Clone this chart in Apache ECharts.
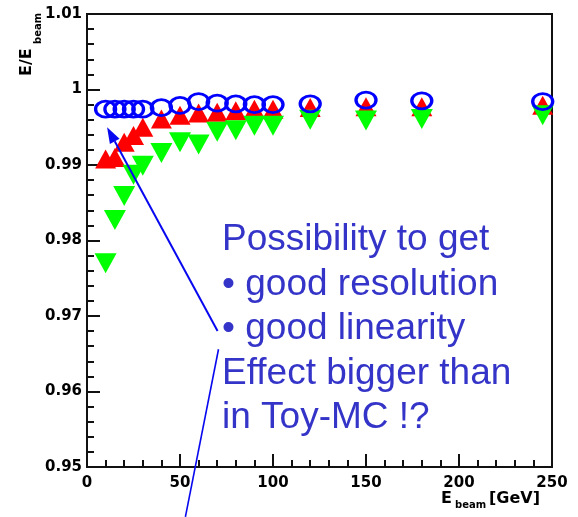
<!DOCTYPE html>
<html><head><meta charset="utf-8">
<script src="https://cdn.jsdelivr.net/npm/echarts@6/dist/echarts.min.js"></script>
<style>html,body{margin:0;padding:0;background:#fff}#c{width:578px;height:517px}</style>
</head><body><div id="c"></div>
<script>
// ---- data ----
const energies  = [10, 15, 20, 25, 30, 40, 50, 60, 70, 80, 90, 100, 120, 150, 180, 245];
const blueCircle = [0.9974, 0.9974, 0.9974, 0.9974, 0.9974, 0.9976, 0.9979, 0.9984, 0.9982, 0.9981, 0.9980, 0.9980, 0.9981, 0.9986, 0.9985, 0.9984];
const redUp      = [0.9908, 0.9910, 0.9930, 0.9939, 0.9950, 0.9961, 0.9966, 0.9969, 0.9970, 0.9972, 0.9974, 0.9974, 0.9976, 0.9977, 0.9977, 0.9979];
const greenDown  = [0.9770, 0.9827, 0.9859, 0.9887, 0.9899, 0.9916, 0.9930, 0.9927, 0.9944, 0.9946, 0.9952, 0.9952, 0.9960, 0.9959, 0.9961, 0.9966];
const xTickValues = [0, 50, 100, 150, 200, 250];
const yTickValues = [0.95, 0.96, 0.97, 0.98, 0.99, 1, 1.01];
const annotationLines = ['Possibility to get', '\u2022 good resolution', '\u2022 good linearity', 'Effect bigger than', 'in Toy-MC !?'];
// annotation pointer anchors in data units
const arrowFrom = [70.2, 0.9680];
const arrowTo   = [10.8, 0.9950];
const line2From = [70.7, 0.9656];
const line2To   = [52.9, 0.9434];

const pairs = vals => energies.map((e, i) => [e, vals[i]]);
const labelFont = 'DejaVu Sans';

const chart = echarts.init(document.getElementById('c'), null, {renderer: 'canvas'});
const option = {
  animation: false,
  backgroundColor: '#ffffff',
  grid: {left: 87, right: 26, top: 14, bottom: 50, show: true, borderColor: '#111', borderWidth: 2, backgroundColor: 'transparent'},
  xAxis: {
    type: 'value', min: xTickValues[0], max: xTickValues[xTickValues.length - 1], interval: 50,
    axisLine: {show: true, lineStyle: {color: '#111', width: 2}},
    axisTick: {show: true, inside: true, length: 13, lineStyle: {color: '#111', width: 2}},
    minorTick: {show: true, splitNumber: 5, length: 7, lineStyle: {color: '#111', width: 2}},
    splitLine: {show: false},
    axisLabel: {margin: 9, color: '#000', fontFamily: labelFont, fontWeight: 'bold', fontSize: 15,
      formatter: v => String(Math.round(v))}
  },
  yAxis: {
    type: 'value', min: yTickValues[0], max: yTickValues[yTickValues.length - 1], interval: 0.01,
    axisLine: {show: true, lineStyle: {color: '#111', width: 2}},
    axisTick: {show: true, inside: true, length: 13, lineStyle: {color: '#111', width: 2}},
    minorTick: {show: true, splitNumber: 5, length: 7, lineStyle: {color: '#111', width: 2}},
    splitLine: {show: false},
    axisLabel: {margin: 5, color: '#000', fontFamily: labelFont, fontWeight: 'bold', fontSize: 15,
      formatter: v => String(parseFloat(v.toFixed(2)))}
  },
  series: [
    {type: 'scatter', name: 'red', data: pairs(redUp), symbol: 'triangle', symbolSize: [21, 19],
     itemStyle: {color: '#ff0000', opacity: 1}, z: 2},
    {type: 'scatter', name: 'green', data: pairs(greenDown), symbol: 'triangle', symbolRotate: 180, symbolSize: [22, 20],
     itemStyle: {color: '#00ff00', opacity: 1}, z: 3},
    {type: 'scatter', name: 'blue', data: pairs(blueCircle), symbol: 'circle', symbolSize: [20, 16],
     itemStyle: {color: 'rgba(0,0,0,0)', borderColor: '#0000ff', borderWidth: 3, opacity: 1}, z: 4}
  ]
};
chart.setOption(option);

const P = d => chart.convertToPixel({gridIndex: 0}, d);
const a0 = P(arrowFrom), a1 = P(arrowTo), b0 = P(line2From), b1 = P(line2To);
const dx = a1[0] - a0[0], dy = a1[1] - a0[1], L = Math.hypot(dx, dy);
const ux = dx / L, uy = dy / L, hl = 16, hw = 5.5;
const base = [a1[0] - ux * hl, a1[1] - uy * hl];
const head = [a1, [base[0] - uy * hw, base[1] + ux * hw], [base[0] + uy * hw, base[1] - ux * hw]];
const arrowColor = '#0808f0';
const textColor = '#3434c8';

const graphics = [
  {type: 'line', shape: {x1: a0[0], y1: a0[1], x2: base[0], y2: base[1]}, style: {stroke: arrowColor, lineWidth: 2}, z: 10},
  {type: 'polygon', shape: {points: head}, style: {fill: arrowColor}, z: 10},
  {type: 'line', shape: {x1: b0[0], y1: b0[1], x2: b1[0], y2: b1[1]}, style: {stroke: arrowColor, lineWidth: 1.6}, z: 10},
  // y axis title E/E_beam
  {type: 'text', x: 27, y: 76, rotation: Math.PI / 2,
   style: {text: 'E/E', font: 'bold 16px "DejaVu Sans"', fill: '#000', align: 'left', verticalAlign: 'middle'}},
  {type: 'text', x: 38, y: 44, rotation: Math.PI / 2,
   style: {text: 'beam', font: 'bold 10px "DejaVu Sans"', fill: '#000', align: 'left', verticalAlign: 'middle'}},
  // x axis title E_beam [GeV]
  {type: 'text', x: 441, y: 499,
   style: {text: 'E', font: 'bold 16px "DejaVu Sans"', fill: '#000', align: 'left', verticalAlign: 'middle'}},
  {type: 'text', x: 455, y: 505,
   style: {text: 'beam', font: 'bold 10px "DejaVu Sans"', fill: '#000', align: 'left', verticalAlign: 'middle'}},
  {type: 'text', x: 489, y: 499,
   style: {text: '[GeV]', font: 'bold 16px "DejaVu Sans"', fill: '#000', align: 'left', verticalAlign: 'middle'}}
];
annotationLines.forEach((t, i) => {
  graphics.push({type: 'text', x: 222, y: 240 + i * 44.5,
    style: {text: t, font: '37px "Liberation Sans"', fill: textColor, align: 'left', verticalAlign: 'middle'}, z: 9});
});
chart.setOption({graphic: graphics});
</script>
</body></html>
